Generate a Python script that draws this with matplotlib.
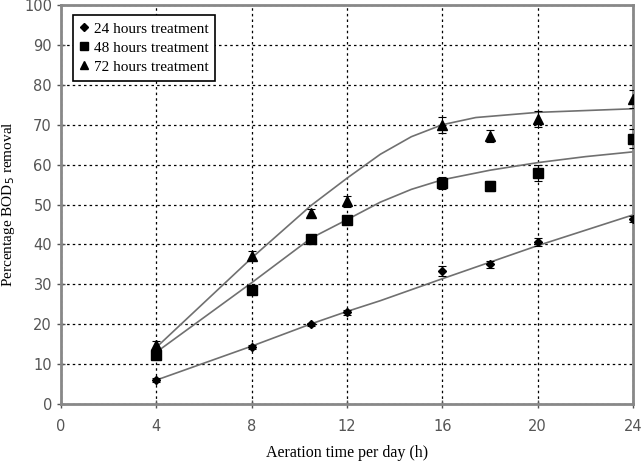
import matplotlib
matplotlib.use('Agg')
import matplotlib.pyplot as plt

# measured points
aeration = [4, 8, 10.5, 12, 16, 18, 20, 24]
bod_24h = [6.0, 14.4, 20.0, 23.0, 33.3, 35.0, 40.7, 46.3]
bod_48h = [12.2, 28.5, 41.4, 46.0, 55.4, 54.6, 57.9, 66.5]
bod_72h = [14.8, 37.2, 47.9, 50.8, 70.0, 67.2, 71.5, 76.4]
err_24h = [0.4, 0.5, 0.4, 0.6, 1.2, 0.8, 1.0, 0.8]
err_48h = [0.8, 1.0, 0.8, 0.9, 1.5, 1.3, 2.0, 2.4]
err_72h = [1.0, 1.2, 1.0, 1.3, 2.0, 1.6, 2.0, 2.2]

# fitted curves
fit_x_24h = [4, 8, 10.5, 12, 13.4, 16, 20, 24]
fit_y_24h = [6.0, 14.5, 20.1, 23.2, 25.9, 31.4, 39.7, 47.4]
fit_x_48h = [4, 8, 10.5, 12, 13.4, 14.7, 16, 18, 20, 22, 24]
fit_y_48h = [13.0, 30.4, 41.6, 46.2, 50.6, 53.8, 56.2, 58.6, 60.5, 62.0, 63.2]
fit_x_72h = [4, 8, 10.5, 12, 13.4, 14.7, 16, 17.4, 20, 24]
fit_y_72h = [14.2, 36.6, 49.8, 56.6, 62.6, 67.0, 70.0, 71.8, 73.1, 74.0]

serif = 'Liberation Serif'

fig = plt.figure(figsize=(6.42, 4.61), dpi=100)
ax = fig.add_axes([0.095, 0.1236, 0.891, 0.8655])

ax.plot(fit_x_24h, fit_y_24h, color='#707070', lw=1.2, zorder=2)
ax.plot(fit_x_48h, fit_y_48h, color='#707070', lw=1.2, zorder=2)
ax.plot(fit_x_72h, fit_y_72h, color='#707070', lw=1.2, zorder=2)

ax.errorbar(aeration, bod_24h, yerr=err_24h, fmt='D', ms=4.5, color='black',
            ecolor='black', elinewidth=0.8, capsize=3, capthick=0.8,
            label='24 hours treatment', zorder=3)
ax.errorbar(aeration, bod_48h, yerr=err_48h, fmt='s', ms=6.5, color='black',
            ecolor='black', elinewidth=0.8, capsize=3, capthick=0.8,
            label='48 hours treatment', zorder=3)
ax.errorbar(aeration, bod_72h, yerr=err_72h, fmt='^', ms=6.5, color='black',
            ecolor='black', elinewidth=0.8, capsize=3, capthick=0.8,
            label='72 hours treatment', zorder=3)

ax.set_xlim(0, 24)
ax.set_ylim(0, 100)
ax.set_xticks(range(0, 25, 4))
ax.set_yticks(range(0, 101, 10))
ax.grid(True, color='black', linestyle=(0, (2, 2.5)), linewidth=0.9)
ax.set_axisbelow(True)
ax.tick_params(direction='inout', length=6, width=1, color='#555555',
               labelsize=10.5, labelcolor='#555555')
ax.tick_params(axis='x', pad=8)
for s in ax.spines.values():
    s.set_color('#888888')
    s.set_linewidth(2)

ax.set_xlabel('Aeration time per day (h)', fontfamily=serif, fontsize=11.5, labelpad=8)
ax.set_ylabel('Percentage BOD$_5$ removal', fontfamily=serif, fontsize=11,
              va='center')
ax.yaxis.set_label_coords(-0.092, 0.5)

handles, labels = ax.get_legend_handles_labels()
handles = [h[0] for h in handles]
leg = ax.legend(handles, labels, loc='upper left', bbox_to_anchor=(0.021, 0.975),
                borderaxespad=0, prop={'family': serif, 'size': 11},
                fancybox=False, edgecolor='black', framealpha=1,
                handlelength=0.6, handletextpad=0.3, markerscale=0.8,
                labelspacing=0.35, borderpad=0.45)
leg.get_frame().set_linewidth(1.2)

fig.savefig('out.png', dpi=100)
